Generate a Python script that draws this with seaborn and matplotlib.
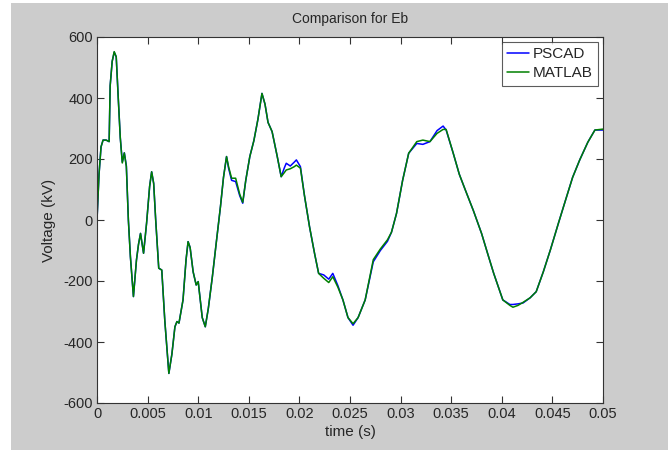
import numpy as np
import pandas as pd
import seaborn as sns
import matplotlib
matplotlib.use("Agg")
import matplotlib.pyplot as plt
from matplotlib.patches import Rectangle
from matplotlib.ticker import FixedLocator, FixedFormatter

# time axis (s)
t = [0.0000, 0.0002, 0.0004, 0.0006, 0.0009, 0.0012, 0.0013, 0.0015, 0.0017, 0.0019,
     0.0021, 0.0023, 0.0025, 0.0027, 0.0029, 0.0031, 0.0033, 0.0036, 0.0039, 0.0041,
     0.0043, 0.0046, 0.0049, 0.0052, 0.0054, 0.0056, 0.0058, 0.0061, 0.0064, 0.0067,
     0.0071, 0.0074, 0.0077, 0.0079, 0.0081, 0.0085, 0.0088, 0.0090, 0.0092, 0.0095,
     0.0098, 0.0100, 0.0104, 0.0107, 0.0110, 0.0114, 0.0118, 0.0122, 0.0125, 0.0128,
     0.0130, 0.0133, 0.0137, 0.0141, 0.0144, 0.0147, 0.0151, 0.0155, 0.0159, 0.0163,
     0.0166, 0.0169, 0.0173, 0.0178, 0.0182, 0.0185, 0.0187, 0.0191, 0.0195, 0.0197,
     0.0201, 0.0205, 0.0210, 0.0215, 0.0219, 0.0224, 0.0229, 0.0233, 0.0238, 0.0243,
     0.0248, 0.0253, 0.0258, 0.0265, 0.0273, 0.0280, 0.0287, 0.0291, 0.0296, 0.0302,
     0.0308, 0.0316, 0.0322, 0.0329, 0.0336, 0.0342, 0.0345, 0.0352, 0.0358, 0.0364,
     0.0372, 0.0380, 0.0386, 0.0392, 0.0401, 0.0408, 0.0411, 0.0416, 0.0421, 0.0428,
     0.0434, 0.0441, 0.0448, 0.0456, 0.0464, 0.0470, 0.0477, 0.0485, 0.0492, 0.0500]

# voltage (kV)
pscad = [0, 150, 240, 262, 262, 257, 440, 520, 550, 535,
         400, 270, 190, 220, 178, 0, -120, -251, -131, -80,
         -44, -109, -10, 110, 158, 120, 0, -158, -164, -330,
         -503, -440, -350, -333, -338, -262, -130, -71, -90, -170,
         -213, -202, -320, -350, -290, -186, -70, 44, 140, 208,
         170, 130, 126, 80, 55, 130, 208, 260, 330, 415,
         380, 320, 290, 210, 142, 170, 186, 177, 190, 197,
         175, 80, -22, -110, -175, -180, -194, -175, -215, -262,
         -320, -345, -320, -262, -137, -100, -70, -40, 22, 130,
         219, 251, 248, 257, 293, 308, 295, 219, 150, 98,
         30, -44, -110, -175, -262, -277, -277, -275, -272, -255,
         -235, -170, -98, -10, 76, 140, 197, 255, 295, 295]

matlab = [0, 150, 240, 262, 262, 257, 440, 520, 552, 535,
          400, 270, 187, 220, 175, 0, -120, -251, -131, -80,
          -44, -109, -10, 110, 158, 120, 0, -158, -164, -330,
          -503, -440, -350, -333, -338, -262, -130, -71, -90, -170,
          -213, -202, -320, -350, -290, -186, -70, 44, 140, 208,
          175, 137, 137, 85, 58, 130, 208, 260, 330, 415,
          380, 320, 290, 210, 142, 155, 164, 168, 175, 180,
          170, 80, -22, -110, -175, -191, -205, -186, -220, -262,
          -320, -340, -320, -262, -130, -95, -65, -40, 22, 130,
          219, 257, 262, 257, 284, 297, 297, 219, 150, 98,
          30, -44, -110, -175, -262, -280, -286, -280, -270, -255,
          -235, -170, -98, -10, 76, 140, 197, 255, 295, 298]

x_ticks = [0, 0.005, 0.01, 0.015, 0.02, 0.025, 0.03, 0.035, 0.04, 0.045, 0.05]
x_labels = ["0", "0.005", "0.01", "0.015", "0.02", "0.025", "0.03", "0.035", "0.04", "0.045", "0.05"]
y_ticks = [-600, -400, -200, 0, 200, 400, 600]

df = pd.DataFrame({
    "time": t * 2,
    "voltage": pscad + matlab,
    "source": ["PSCAD"] * len(t) + ["MATLAB"] * len(t),
})

sns.set_style("ticks")
plt.rcParams["font.family"] = ["Liberation Sans", "DejaVu Sans"]
plt.rcParams["axes.unicode_minus"] = False
plt.rcParams["xtick.direction"] = "in"
plt.rcParams["ytick.direction"] = "in"

fig = plt.figure(figsize=(6.68, 4.5), dpi=100, facecolor="white")
# grey matlab-style figure background
fig.add_artist(Rectangle((11 / 668, 0), 1, 1 - 3 / 450, transform=fig.transFigure,
                         facecolor="#cccccc", edgecolor="none", zorder=-10))
ax = fig.add_axes([97 / 668, 1 - 403 / 450, 506 / 668, 366 / 450])
ax.set_facecolor("white")

sns.lineplot(data=df, x="time", y="voltage", hue="source", estimator=None, sort=False,
             palette={"PSCAD": "#0000ff", "MATLAB": "#008000"}, linewidth=1.1, ax=ax)

ax.set_xlim(0, 0.05)
ax.set_ylim(-600, 600)
ax.xaxis.set_major_locator(FixedLocator(x_ticks))
ax.xaxis.set_major_formatter(FixedFormatter(x_labels))
ax.set_yticks(y_ticks)
ax.tick_params(axis="both", which="both", direction="in", top=True, right=True,
               length=5, width=0.8, color="#333333", labelsize=10.5, pad=3)
for s in ax.spines.values():
    s.set_visible(True)
    s.set_color("#333333")
    s.set_linewidth(0.8)

ax.set_title("Comparison for Eb", fontsize=10, pad=10)
ax.set_xlabel("time (s)", fontsize=11, labelpad=3)
ax.set_ylabel("Voltage (kV)", fontsize=11, labelpad=5)

handles, labels = ax.get_legend_handles_labels()
leg = ax.legend(handles, labels, loc="upper right", frameon=True, fancybox=False,
                handlelength=1.4, handletextpad=0.3, borderpad=0.35, labelspacing=0.35,
                borderaxespad=0.3, prop={"size": 11})
leg.get_frame().set_edgecolor("#333333")
leg.get_frame().set_linewidth(0.8)

fig.savefig("out.png", dpi=100, facecolor=fig.get_facecolor())
